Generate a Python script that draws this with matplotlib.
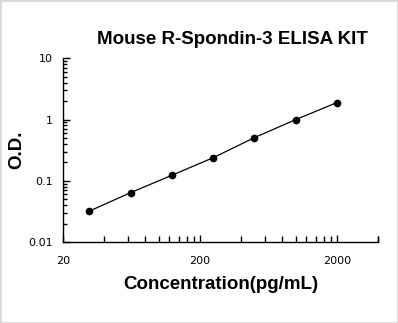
import numpy as np
import matplotlib
matplotlib.use('Agg')
import matplotlib.pyplot as plt
from matplotlib.patches import Rectangle
from matplotlib.ticker import FixedLocator, NullFormatter

# standard curve values
conc = [31.25, 62.5, 125, 250, 500, 1000, 2000]
od = [0.032, 0.064, 0.123, 0.238, 0.506, 0.996, 1.89]

x_major = [20, 200, 2000]
x_labels = ['20', '200', '2000']
y_major = [0.01, 0.1, 1, 10]
y_labels = ['0.01', '0.1', '1', '10']

plt.rcParams['font.family'] = ['Liberation Sans', 'DejaVu Sans']

fig = plt.figure(figsize=(3.98, 3.23), dpi=100)
fig.patches.append(Rectangle((0, 0), 1, 1, transform=fig.transFigure,
                             fill=False, ec='#d9d9d9', lw=2))
ax = fig.add_axes([0.158, 0.2508, 0.792, 0.5687])

ax.plot(conc, od, '-', color='k', lw=0.9, marker='o', ms=4.5,
        mfc='k', mec='k')

ax.set_xscale('log')
ax.set_yscale('log')
ax.set_xlim(20, 4000)
ax.set_ylim(0.01, 10)

ax.spines['top'].set_visible(False)
ax.spines['right'].set_visible(False)
for s in ['left', 'bottom']:
    ax.spines[s].set_linewidth(1.0)

ax.xaxis.set_major_locator(FixedLocator(x_major))
ax.set_xticklabels(x_labels)
xminor = []
for d in [1, 10, 100]:
    for k in range(1, 10):
        xminor.append(20 * k * d)
xminor.append(4000)
ax.xaxis.set_minor_locator(FixedLocator(xminor))
ax.xaxis.set_minor_formatter(NullFormatter())

ax.yaxis.set_major_locator(FixedLocator(y_major))
ax.set_yticklabels(y_labels)
ax.yaxis.set_minor_locator(matplotlib.ticker.LogLocator(base=10, subs=np.arange(2, 10)))
ax.yaxis.set_minor_formatter(NullFormatter())

ax.tick_params(axis='both', which='major', direction='in', length=5, width=1,
               labelsize=8, pad=7.5)
ax.tick_params(axis='x', which='minor', direction='in', length=4, width=1)
ax.tick_params(axis='y', which='minor', direction='in', length=3, width=1)
ax.tick_params(axis='x', which='major', pad=10)
for lbl in ax.get_xticklabels() + ax.get_yticklabels():
    lbl.set_family(['DejaVu Sans'])

ax.set_xlabel('Concentration(pg/mL)', fontsize=13.5, fontweight='bold', labelpad=7)
ax.set_ylabel('O.D.', fontsize=13.5, fontweight='bold')
ax.yaxis.set_label_coords(-0.118, 0.5)
fig.text(0.585, 0.877, 'Mouse R-Spondin-3 ELISA KIT', fontsize=13.5,
         fontweight='bold', ha='center', va='center')

fig.savefig('out.png', dpi=100)
